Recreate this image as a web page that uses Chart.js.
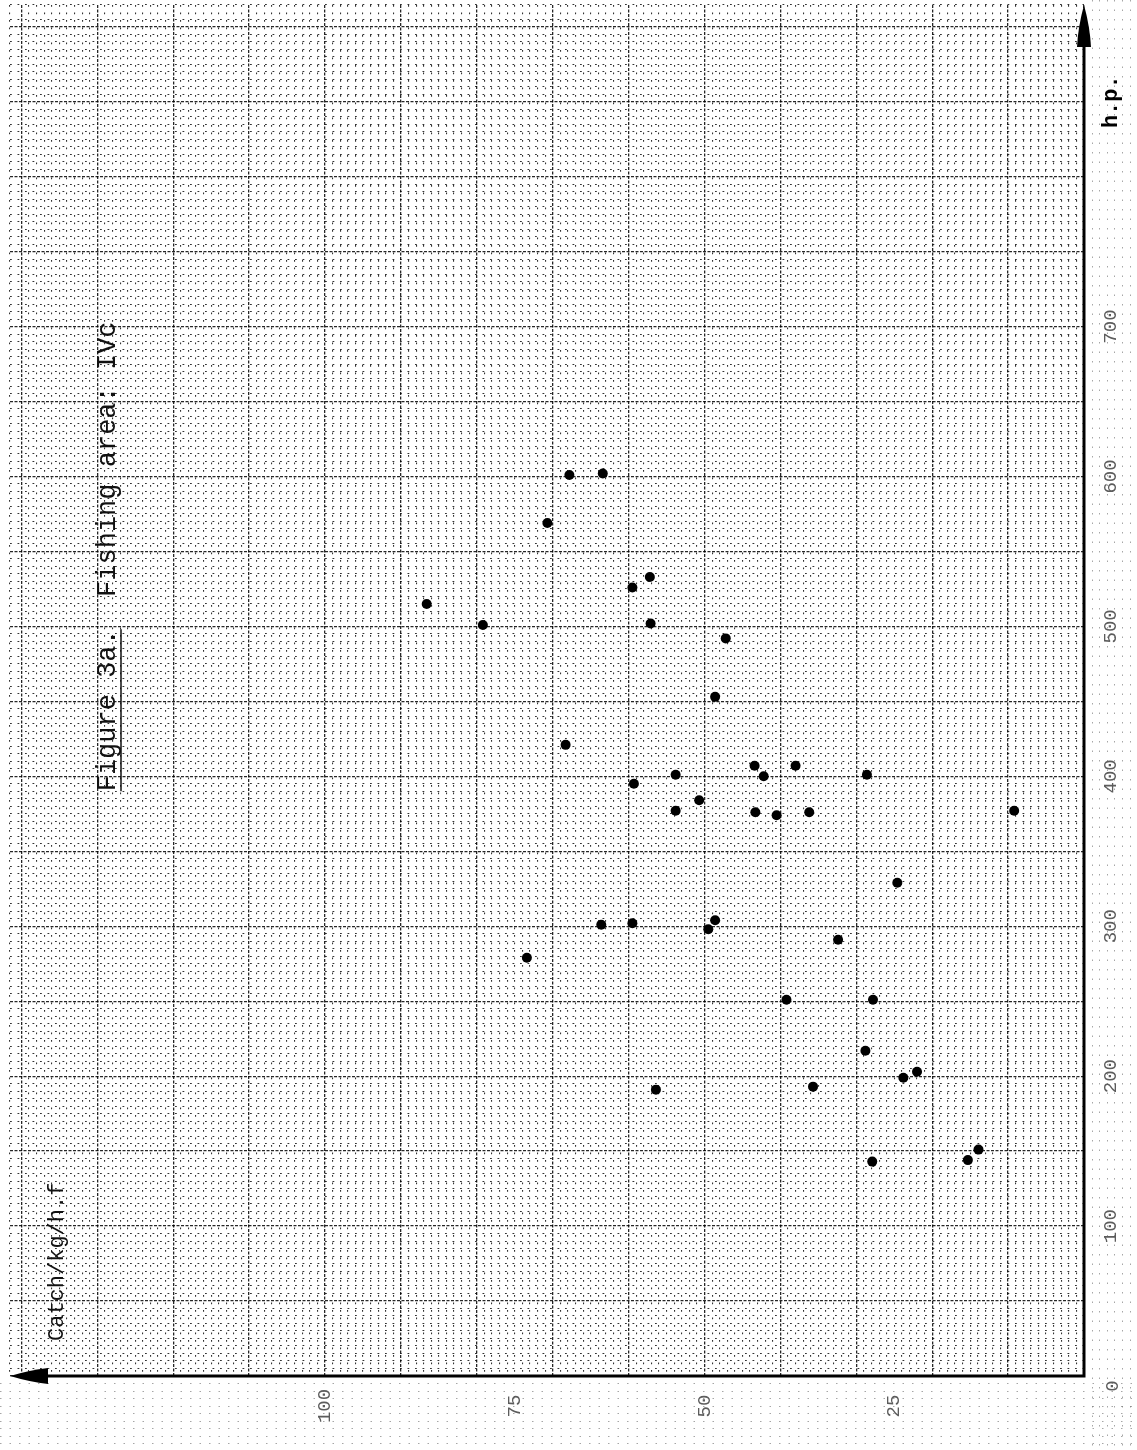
<!DOCTYPE html>
<html>
<head>
<meta charset="utf-8">
<title>Figure 3a. Fishing area: IVc</title>
<script src="https://cdn.jsdelivr.net/npm/chart.js@4.4.1/dist/chart.umd.min.js"></script>
<style>
  html, body { margin: 0; padding: 0; background: #ffffff; }
  #wrap { width: 1137px; height: 1450px; position: relative; }
  canvas { display: block; }
</style>
</head>
<body>
<div id="wrap"><canvas id="chart" width="1137" height="1450"></canvas></div>
<script>
// Catch per kg per hour fished (horizontal, runs leftwards) against engine h.p. (vertical)
const catchPerHf = [86.6, 79.2, 70.7, 67.8, 63.4, 59.5, 57.2, 57.1, 47.2, 48.6,
                    68.3, 59.3, 53.8, 53.8, 50.7, 43.4, 42.2, 43.3, 40.5, 38.0,
                    36.2, 28.6, 9.2, 24.6, 73.4, 63.6, 59.5, 49.5, 48.6, 32.4,
                    39.2, 27.8, 28.8, 56.4, 35.7, 23.8, 22.0, 27.9, 15.3, 13.9];
const horsePower = [515, 501, 569, 601, 602, 526, 533, 502, 492, 453,
                    421, 395, 401, 377, 384, 407, 400, 376, 374, 407,
                    376, 401, 377, 329, 279, 301, 302, 298, 304, 291,
                    251, 251, 217, 191, 193, 199, 203, 143, 144, 151];

const catchTickLabels = [25, 50, 75, 100];
const hpTickLabels = [100, 200, 300, 400, 500, 600, 700];

const catchMax = 141.5;
const hpMax = 914.5;

const points = catchPerHf.map((c, i) => ({ x: c, y: horsePower[i] }));

const TYPE_FONT = '"Liberation Mono", "DejaVu Sans Mono", monospace';

function rotatedText(ctx, text, x, y, font, color, align) {
  ctx.save();
  ctx.translate(x, y);
  ctx.rotate(-Math.PI / 2);
  ctx.font = font;
  ctx.fillStyle = color;
  ctx.textAlign = align || 'center';
  ctx.textBaseline = 'middle';
  ctx.fillText(text, 0, 0);
  ctx.restore();
}

// faint ruling of the sheet outside the plotting field
const marginRulingPlugin = {
  id: 'marginRuling',
  beforeDatasetsDraw(chart) {
    const { ctx, scales, width, height } = chart;
    const xs = scales.x, ys = scales.y;
    const ox = xs.getPixelForValue(0);
    const oy = ys.getPixelForValue(0);
    const stepX = xs.getPixelForValue(0) - xs.getPixelForValue(1);
    const stepY = ys.getPixelForValue(0) - ys.getPixelForValue(5);
    ctx.save();
    ctx.strokeStyle = 'rgba(0,0,0,0.35)';
    ctx.lineWidth = 1;
    ctx.setLineDash([1.5, 8]);
    ctx.beginPath();
    // columns to the right of the h.p. axis
    for (let x = ox + stepX; x < width; x += stepX) {
      ctx.moveTo(Math.round(x) + 0.5, 0);
      ctx.lineTo(Math.round(x) + 0.5, height);
    }
    // rows below the catch axis
    for (let y = oy + stepY; y < height; y += stepY) {
      ctx.moveTo(0, Math.round(y) + 0.5);
      ctx.lineTo(width, Math.round(y) + 0.5);
    }
    ctx.stroke();
    ctx.restore();
  }
};

const paperPlugin = {
  id: 'paper',
  afterDraw(chart) {
    const { ctx, scales } = chart;
    const xs = scales.x, ys = scales.y;
    const ox = xs.getPixelForValue(0);
    const oy = ys.getPixelForValue(0);
    const topY = ys.getPixelForValue(hpMax);
    const leftX = xs.getPixelForValue(catchMax);

    ctx.save();
    // axes
    ctx.strokeStyle = '#000';
    ctx.lineWidth = 3;
    ctx.lineCap = 'butt';
    ctx.beginPath();
    ctx.moveTo(ox, oy + 1.5);
    ctx.lineTo(ox, topY + 20);
    ctx.moveTo(ox + 1.5, oy);
    ctx.lineTo(leftX + 20, oy);
    ctx.stroke();

    // arrow heads
    ctx.fillStyle = '#000';
    ctx.beginPath();
    ctx.moveTo(ox, topY);
    ctx.quadraticCurveTo(ox + 6, topY + 22, ox + 7, topY + 42);
    ctx.lineTo(ox - 7, topY + 42);
    ctx.quadraticCurveTo(ox - 6, topY + 22, ox, topY);
    ctx.closePath();
    ctx.fill();
    ctx.beginPath();
    ctx.moveTo(leftX, oy);
    ctx.quadraticCurveTo(leftX + 20, oy - 6, leftX + 38, oy - 8);
    ctx.lineTo(leftX + 38, oy + 8);
    ctx.quadraticCurveTo(leftX + 20, oy + 6, leftX, oy);
    ctx.closePath();
    ctx.fill();

    // tick labels
    const tickFont = '19px ' + TYPE_FONT;
    const tickColor = '#5c5c5c';
    hpTickLabels.forEach(v => {
      rotatedText(ctx, String(v), ox + 27, ys.getPixelForValue(v), tickFont, tickColor);
    });
    catchTickLabels.forEach(v => {
      rotatedText(ctx, String(v), xs.getPixelForValue(v), oy + 30, tickFont, tickColor);
    });
    rotatedText(ctx, '0', ox + 29, oy + 10, tickFont, tickColor);

    // axis names
    rotatedText(ctx, 'h.p.', ox + 27, ys.getPixelForValue(850), 'bold 22px ' + TYPE_FONT, '#000');
    rotatedText(ctx, 'Catch/kg/h.f', 57, oy - 35, '22px ' + TYPE_FONT, '#111', 'left');

    // heading
    const headFont = '27px ' + TYPE_FONT;
    const hx = 108, hy = ys.getPixelForValue(390);
    ctx.save();
    ctx.translate(hx, hy);
    ctx.rotate(-Math.PI / 2);
    ctx.font = headFont;
    ctx.fillStyle = '#111';
    ctx.textAlign = 'left';
    ctx.textBaseline = 'middle';
    const part1 = 'Figure 3a.';
    const part2 = '  Fishing area: IVc';
    ctx.fillText(part1 + part2, 0, 0);
    const w1 = ctx.measureText(part1).width;
    ctx.strokeStyle = '#111';
    ctx.lineWidth = 1.5;
    ctx.beginPath();
    ctx.moveTo(0, 13);
    ctx.lineTo(w1, 13);
    ctx.stroke();
    ctx.restore();

    ctx.restore();
  }
};

const minorColor = 'rgba(0,0,0,0.8)';
const majorColor = 'rgba(0,0,0,0.85)';

function isMajor(c, step) {
  const v = c.tick ? c.tick.value : 0;
  return Math.abs(v / step - Math.round(v / step)) < 1e-6;
}
const gridColor = (step) => (c) => isMajor(c, step) ? majorColor : minorColor;
const gridDash = (step) => (c) => isMajor(c, step) ? [3, 1.5] : [1.8, 5.7];
const gridWidth = (step) => (c) => isMajor(c, step) ? 1.3 : 1.1;

new Chart(document.getElementById('chart'), {
  type: 'scatter',
  data: {
    datasets: [{
      label: 'Catch/kg/h.f',
      data: points,
      pointRadius: 5,
      pointHoverRadius: 5,
      pointBackgroundColor: '#000',
      pointBorderWidth: 0,
      borderWidth: 0
    }]
  },
  options: {
    responsive: false,
    animation: false,
    devicePixelRatio: 1,
    layout: { padding: { left: 10, top: 3, right: 53, bottom: 74 } },
    plugins: {
      legend: { display: false },
      tooltip: { enabled: false },
      title: { display: false }
    },
    scales: {
      x: {
        type: 'linear',
        position: 'bottom',
        reverse: true,
        min: 0,
        max: catchMax,
        ticks: { display: false, stepSize: 1, autoSkip: false },
        grid: { drawTicks: false, color: gridColor(10), lineWidth: gridWidth(10) },
        border: { display: false, dash: gridDash(10) }
      },
      y: {
        type: 'linear',
        position: 'right',
        min: 0,
        max: hpMax,
        ticks: { display: false, stepSize: 5, autoSkip: false },
        grid: { drawTicks: false, color: gridColor(50), lineWidth: gridWidth(50) },
        border: { display: false, dash: gridDash(50) }
      }
    }
  },
  plugins: [marginRulingPlugin, paperPlugin]
});
</script>
</body>
</html>
